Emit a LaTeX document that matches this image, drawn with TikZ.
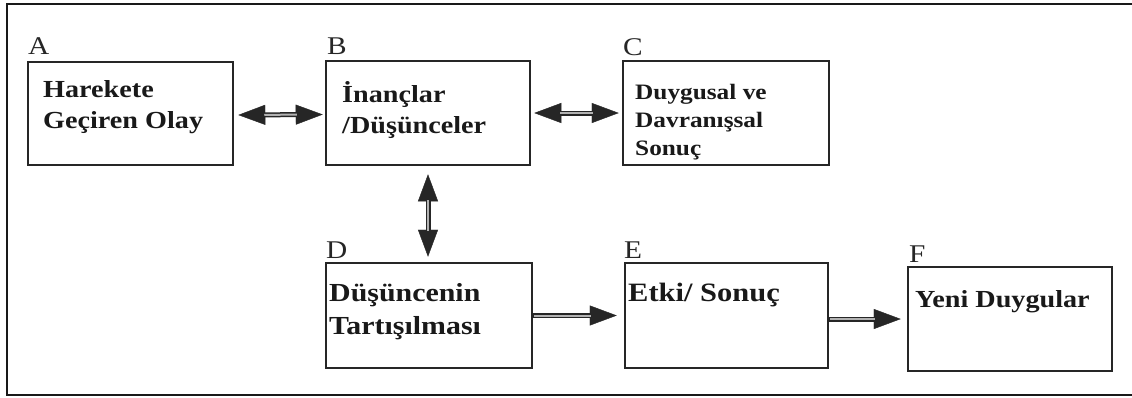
\documentclass[tikz,border=0pt]{standalone}
\usepackage{fontspec}
\setmainfont{Liberation Serif}[FakeStretch=1.15]
\usetikzlibrary{arrows.meta}
\tikzset{
  box/.style={draw=black!85, line width=2.5pt, rectangle, inner sep=0pt},
  txt/.style={anchor=base west, inner sep=0pt, align=left, text=black!90},
  lbl/.style={anchor=base west, inner sep=0pt, text=black!85, font=\fontsize{25.5pt}{25.5pt}\selectfont},
  conn/.style={draw=black!85, line width=5pt,
     >={Triangle[length=27pt, width=20pt, line width=0.4pt]}},
  core/.style={draw=gray!60, line width=2pt, arrows=-}
}
\begin{document}
\begin{tikzpicture}[x=1pt, y=-1pt]
\useasboundingbox[fill=white] (0,0) rectangle (1132,397);
% outer frame
\draw[black!90, line width=2pt] (1132,4) -- (7,4) -- (7,395) -- (1132,395);

% boxes
\node[box, minimum width=205pt, minimum height=103pt] (a) at (130.5,113.5) {};
\node[box, minimum width=204pt, minimum height=104pt] (b) at (428,113) {};
\node[box, minimum width=206pt, minimum height=104pt] (c) at (726,113) {};
\node[box, minimum width=206pt, minimum height=105pt] (d) at (429,315.5) {};
\node[box, minimum width=203pt, minimum height=105pt] (e) at (726.5,315.5) {};
\node[box, minimum width=204pt, minimum height=104pt] (f) at (1010,319) {};

% letters
\node[lbl] (la) at (28,54) {A};
\node[lbl] (lb) at (327,54) {B};
\node[lbl] (lc) at (623,55) {C};
\node[lbl] (ld) at (326,258) {D};
\node[lbl] (le) at (624,258) {E};
\node[lbl] (lf) at (909,262) {F};

% texts (base anchor = baseline of the last line)
\node[txt, font=\bfseries\fontsize{24.5pt}{31pt}\selectfont] (ta) at (43,128) {Harekete\\Geçiren Olay};
\node[txt, font=\bfseries\fontsize{24.5pt}{31pt}\selectfont] (tb) at (342,133) {İnançlar\\/Düşünceler};
\node[txt, font=\bfseries\fontsize{22pt}{28pt}\selectfont] (tc) at (635,155) {Duygusal ve\\Davranışsal\\Sonuç};
\node[txt, font=\bfseries\fontsize{26pt}{33pt}\selectfont] (td) at (329,334) {Düşüncenin\\Tartışılması};
\node[txt, font=\bfseries\fontsize{26.5pt}{33pt}\selectfont] (te) at (628,301) {Etki/ Sonuç};
\node[txt, font=\bfseries\fontsize{24.5pt}{31pt}\selectfont] (tf) at (915,307) {Yeni Duygular};

% connectors
\draw[conn, <->, shorten <=4pt, shorten >=2pt,
      postaction={core, shorten <=30pt, shorten >=28pt}]
  ([yshift=-1.5pt]a.east) -- ([yshift=-1.5pt]b.west);
\draw[conn, <->, shorten <=3pt, shorten >=3pt,
      postaction={core, shorten <=29pt, shorten >=29pt}]
  (b.east) -- (c.west);
\draw[conn, <->, shorten <=8pt, shorten >=5pt,
      postaction={core, shorten <=34pt, shorten >=31pt}]
  (b.south) -- (b.south |- d.north);
\draw[conn, ->, shorten >=7pt,
      postaction={core, shorten <=1pt, shorten >=33pt}]
  (d.east) -- (e.west);
\draw[conn, ->, shorten >=6pt,
      postaction={core, shorten <=1pt, shorten >=32pt}]
  (e.east |- f.west) -- (f.west);
\end{tikzpicture}
\end{document}
